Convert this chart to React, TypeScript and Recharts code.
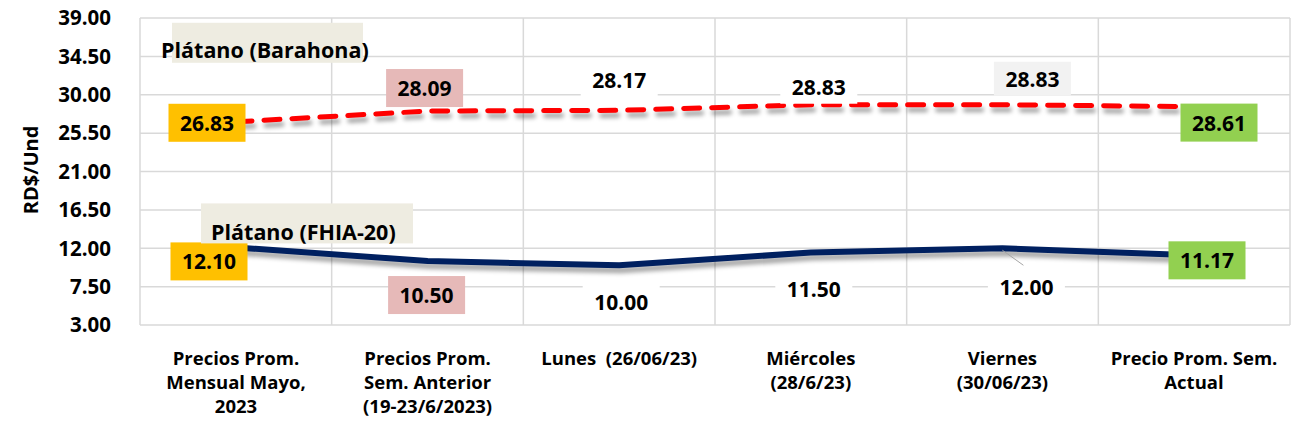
import React from 'react';
import { LineChart, Line, XAxis, YAxis, CartesianGrid, LabelList } from 'recharts';

// Categories (lines split with |)
const categories = [
  'Precios Prom.|Mensual Mayo,|2023',
  'Precios Prom.|Sem. Anterior|(19-23/6/2023)',
  'Lunes  (26/06/23)',
  'Miércoles|(28/6/23)',
  'Viernes|(30/06/23)',
  'Precio Prom. Sem.|Actual',
];
const barahona = [26.83, 28.09, 28.17, 28.83, 28.83, 28.61];
const fhia = [12.1, 10.5, 10.0, 11.5, 12.0, 11.17];
const yTicks = [3, 7.5, 12, 16.5, 21, 25.5, 30, 34.5, 39];
const seriesNames = ['Plátano (Barahona)', 'Plátano (FHIA-20)'];

const data = categories.map((name, i) => ({ name, barahona: barahona[i], fhia: fhia[i] }));

const FONT = "'Open Sans', sans-serif";

// label box styling: offset from point + background
const barahonaLabels = [
  { dx: -29, dy: 1, fill: '#FFC000', h: 38 },
  { dx: -3, dy: -23, fill: '#E6B9B8', h: 38 },
  { dx: 0, dy: -30, fill: '#FFFFFF', h: 34 },
  { dx: 8, dy: -18, fill: '#FFFFFF', h: 34 },
  { dx: 30, dy: -26, fill: '#F2F2F2', h: 34 },
  { dx: 25, dy: 16, fill: '#92D050', h: 38 },
];
const fhiaLabels = [
  { dx: -27, dy: 14, fill: '#FFC000', h: 38 },
  { dx: -1, dy: 34, fill: '#E6B9B8', h: 38 },
  { dx: 2, dy: 37, fill: '#FFFFFF', h: 34 },
  { dx: 3, dy: 36, fill: '#FFFFFF', h: 34 },
  { dx: 24, dy: 39, fill: '#FFFFFF', h: 34 },
  { dx: 13, dy: 5, fill: '#92D050', h: 38 },
];

// series name boxes, relative to the first point
const nameBoxes = [
  { bx: -64, by: -99, bw: 191, tx: -75, ty: -72 },
  { bx: -35, by: -44, bw: 212, tx: -25, ty: -16 },
];

function makeLabel(styles: typeof barahonaLabels, series: number) {
  return (props: any) => {
    const { x, y, value, index } = props;
    const s = styles[index];
    if (!s || x == null) return null;
    const cx = x + s.dx;
    const cy = y + s.dy;
    const w = 77;
    const nb = nameBoxes[series];
    return (
      <g>
        {series === 1 && index === 4 && (
          <line x1={x} y1={y + 2} x2={x + 21} y2={y + 17} stroke="#A6A6A6" strokeWidth={1} />
        )}
        <rect x={cx - w / 2} y={cy - s.h / 2} width={w} height={s.h} fill={s.fill} />
        <text x={cx} y={cy} textAnchor="middle" dominantBaseline="central"
          fontFamily={FONT} fontWeight={700} fontSize={21} fill="#000">
          {Number(value).toFixed(2)}
        </text>
        {index === 0 && (
          <g>
            <rect x={x + nb.bx} y={y + nb.by} width={nb.bw} height={40} fill="#EEECE1" />
            <text x={x + nb.tx} y={y + nb.ty} dominantBaseline="central"
              fontFamily={FONT} fontWeight={700} fontSize={21.5} fill="#000">
              {seriesNames[series]}
            </text>
          </g>
        )}
      </g>
    );
  };
}

const XTick = (props: any) => {
  const { x, y, payload } = props;
  const lines = String(payload.value).split('|');
  return (
    <text x={x} y={y} textAnchor="middle" fontFamily={FONT} fontWeight={700} fontSize={18.5}
      fill="#000" style={{ whiteSpace: 'pre' }}>
      {lines.map((l, i) => (
        <tspan key={i} x={x} dy={i === 0 ? 40 : 24}>{l}</tspan>
      ))}
    </text>
  );
};

export default function App() {
  return (
    <div style={{ position: 'absolute', left: 0, top: 0, width: 1293, height: 431, background: '#fff' }}>
      <style>{`.recharts-line-curve { filter: drop-shadow(2px 5px 2px rgba(0,0,0,0.35)); }`}</style>
      <LineChart width={1293} height={431} data={data} margin={{ top: 18, right: 3, bottom: 0, left: 0 }}>
        <CartesianGrid
          stroke="#D9D9D9"
          strokeWidth={1.5}
          verticalCoordinatesGenerator={({ offset }: any) =>
            categories.map((_, i) => offset.left + (i * offset.width) / categories.length).concat(offset.left + offset.width)
          }
        />
        <XAxis
          dataKey="name"
          interval={0}
          axisLine={false}
          tickLine={false}
          tickSize={0}
          tickMargin={0}
          height={106}
          padding={{ left: 96, right: 96 }}
          tick={<XTick />}
        />
        <YAxis
          width={140}
          domain={[3, 39]}
          ticks={yTicks}
          interval={0}
          axisLine={false}
          tickLine={false}
          tickSize={0}
          tickMargin={29}
          tickFormatter={(v: number) => v.toFixed(2)}
          tick={{ fontFamily: FONT, fontWeight: 700, fontSize: 20.5, fill: '#000' }}
          label={{
            content: () => (
              <text x={30} y={170} transform="rotate(-90 30 170)" textAnchor="middle" dominantBaseline="central"
                fontFamily={FONT} fontWeight={700} fontSize={20} fill="#000">
                RD$/Und
              </text>
            ),
          }}
        />
        <Line
          dataKey="barahona"
          stroke="#FF0000"
          strokeWidth={5}
          strokeDasharray="16 12"
          strokeLinecap="round"
          dot={false}
          isAnimationActive={false}
        >
          <LabelList dataKey="barahona" content={makeLabel(barahonaLabels, 0)} />
        </Line>
        <Line
          dataKey="fhia"
          stroke="#002060"
          strokeWidth={6}
          dot={false}
          isAnimationActive={false}
        >
          <LabelList dataKey="fhia" content={makeLabel(fhiaLabels, 1)} />
        </Line>
      </LineChart>
    </div>
  );
}
